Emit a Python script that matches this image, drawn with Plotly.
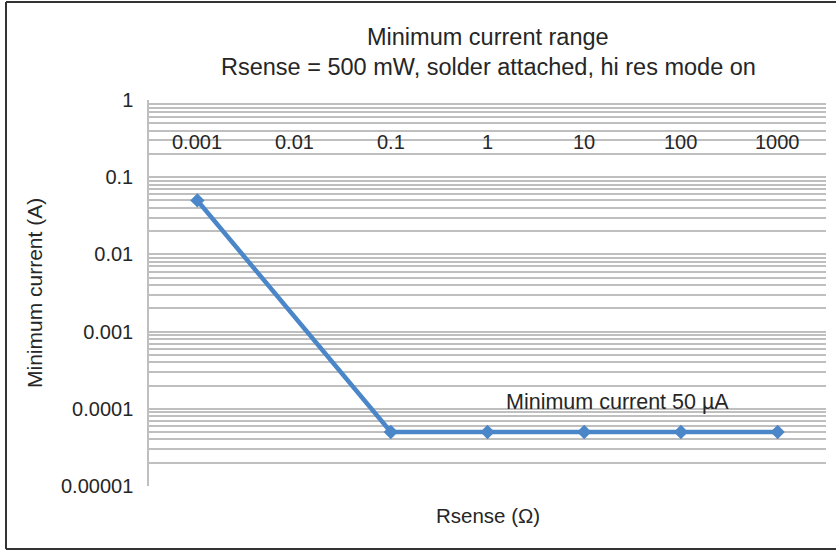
import plotly.graph_objects as go

# ---- data ----
rsense_labels = ["0.001", "0.01", "0.1", "1", "10", "100", "1000"]
min_current = [0.05, None, 0.00005, 0.00005, 0.00005, 0.00005, 0.00005]
y_tick_vals = [1, 0.1, 0.01, 0.001, 0.0001, 0.00001]
y_tick_text = ["1", "0.1", "0.01", "0.001", "0.0001", "0.00001"]
title_line1 = "Minimum current range"
title_line2 = "Rsense = 500 mW, solder attached, hi res mode on"
note_text = "Minimum current 50 µA"
x_title = "Rsense (Ω)"
y_title = "Minimum current (A)"

FONT = "Liberation Sans, Arial, sans-serif"
TXT = "#262626"
GRID = "#bfbfbf"
LINE = "#4a86c8"

W, H = 836, 550
L, R, T, B = 149, 10, 100, 64
pw, ph = W - L - R, H - T - B

def px(x):
    return (x - L) / pw

def py(y):
    return (H - B - y) / ph

minor_vals = [m * 10 ** e for e in range(-5, 0) for m in range(2, 10)]

fig = go.Figure()
fig.add_trace(go.Scatter(
    x=rsense_labels, y=min_current, mode="lines+markers",
    connectgaps=True,
    line=dict(color=LINE, width=4.5),
    marker=dict(symbol="diamond", size=11, color=LINE),
    showlegend=False, hoverinfo="x+y",
))

fig.update_layout(
    width=W, height=H,
    margin=dict(l=L, r=R, t=T, b=B, autoexpand=False),
    paper_bgcolor="white", plot_bgcolor="white",
    font=dict(family=FONT, color=TXT, size=20),
    xaxis=dict(type="category", categoryorder="array", categoryarray=rsense_labels,
               range=[-0.5, 6.5], showticklabels=False,
               ticks="", showgrid=False, zeroline=False,
               showline=False, automargin=False),
    yaxis=dict(type="log", range=[-5.0005, 0.0005], tickmode="array", tickvals=y_tick_vals,
               ticktext=y_tick_text, ticks="", showgrid=True, gridcolor=GRID,
               gridwidth=1.5, zeroline=False, showline=True, linecolor=GRID,
               linewidth=1.5, tickfont=dict(size=20, family=FONT, color=TXT),
               ticklabelstandoff=10, automargin=False,
               minor=dict(tickmode="array", tickvals=minor_vals, showgrid=True,
                          gridcolor=GRID, gridwidth=1.5, ticks="")),
)

# chart title (two lines)
fig.add_annotation(text=title_line1, xref="paper", yref="paper", x=px(488), y=py(37),
                   showarrow=False, xanchor="center", yanchor="middle",
                   font=dict(size=23.5, family=FONT, color=TXT))
fig.add_annotation(text=title_line2, xref="paper", yref="paper", x=px(488), y=py(67),
                   showarrow=False, xanchor="center", yanchor="middle",
                   font=dict(size=23.5, family=FONT, color=TXT))

# category labels drawn inside the plot, under the top (y = 1) axis, as Excel does
for i, lab in enumerate(rsense_labels):
    fig.add_annotation(text=lab, xref="x", yref="paper", x=i, y=py(141.5),
                       showarrow=False, xanchor="center", yanchor="middle",
                       font=dict(size=20, family=FONT, color=TXT))

fig.add_annotation(text=note_text, xref="paper", yref="paper", x=px(617), y=py(402),
                   showarrow=False, xanchor="center", yanchor="middle",
                   font=dict(size=21.5, family=FONT, color=TXT))
fig.add_annotation(text=x_title, xref="paper", yref="paper", x=px(487.5), y=py(515),
                   showarrow=False, xanchor="center", yanchor="middle",
                   font=dict(size=20.5, family=FONT, color=TXT))
fig.add_annotation(text=y_title, xref="paper", yref="paper", x=px(34), y=py(293),
                   showarrow=False, xanchor="center", yanchor="middle", textangle=-90,
                   font=dict(size=21, family=FONT, color=TXT))

# outer chart frame (left, top, bottom; right edge runs off the picture)
frame = dict(color="#333333", width=2)
fig.add_shape(type="line", xref="paper", yref="paper", x0=px(6), x1=px(6),
              y0=py(549), y1=py(2), line=frame, layer="above")
fig.add_shape(type="line", xref="paper", yref="paper", x0=px(6), x1=px(W + 5),
              y0=py(2), y1=py(2), line=frame, layer="above")
fig.add_shape(type="line", xref="paper", yref="paper", x0=px(6), x1=px(W + 5),
              y0=py(549), y1=py(549), line=frame, layer="above")

fig.write_html("out.html", config={"displayModeBar": False},
               post_script="document.body.style.margin='0';")
